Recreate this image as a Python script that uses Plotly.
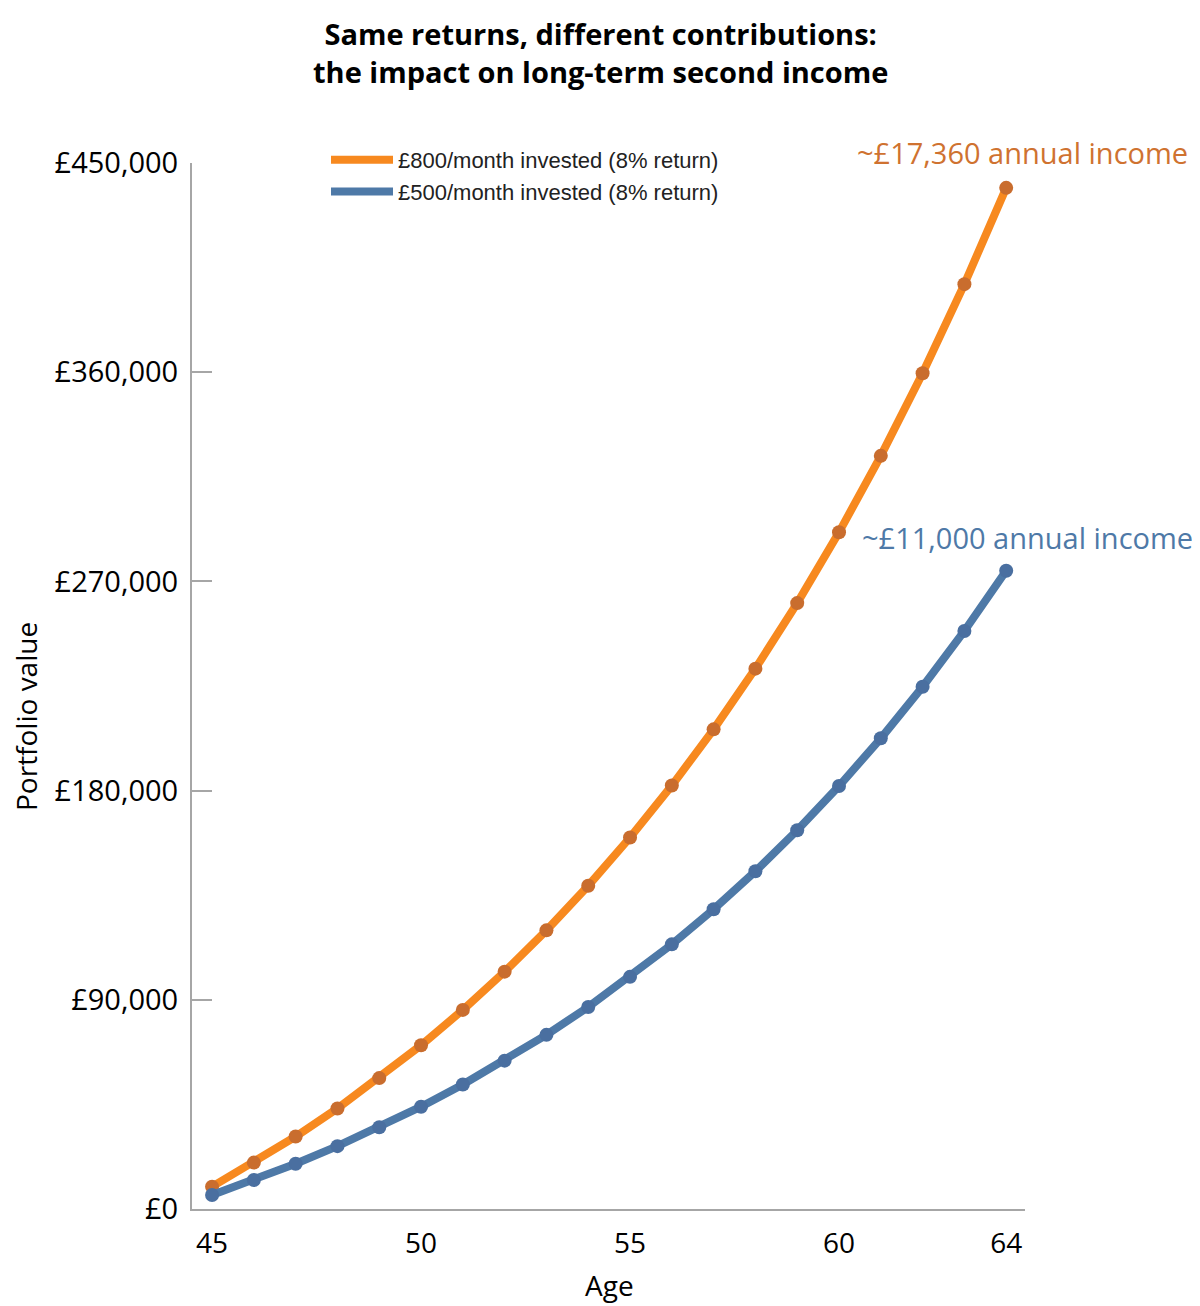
import plotly.graph_objects as go

ages = list(range(45, 65))
orange_values = [9600, 19970, 31170, 43260, 56320, 70430, 85660, 102110, 119880, 139070,
                 159800, 182180, 206360, 232470, 260660, 291120, 324010, 359530, 397890, 439320]
blue_values = [6000, 12480, 19480, 27040, 35200, 44020, 53540, 63820, 74930, 86920,
               99870, 113860, 128970, 145290, 162910, 181950, 202500, 224700, 248680, 274570]
series_names = ["£800/month invested (8% return)", "£500/month invested (8% return)"]
y_ticks = [0, 90000, 180000, 270000, 360000, 450000]
y_tick_text = ["£0", "£90,000", "£180,000", "£270,000", "£360,000", "£450,000"]
x_ticks = [45, 50, 55, 60, 64]
annotations_text = ["~£17,360 annual income", "~£11,000 annual income"]
title_text = "<b>Same returns, different contributions:<br>the impact on long-term second income</b>"

ORANGE = "#f7891f"
ORANGE_M = "#c96d2e"
BLUE = "#4e79a7"
BLUE_M = "#4a6fa0"
FONT = "Open Sans"

L, T, PW, PH = 184, 155, 833, 1046  # plot area in figure pixels


def px(xp):
    return (xp - L) / PW


def py(yp):
    return (T + PH - yp) / PH


fig = go.Figure()
fig.add_trace(go.Scatter(x=ages, y=orange_values, mode="lines+markers", showlegend=False,
                         line=dict(color=ORANGE, width=8),
                         marker=dict(color=ORANGE_M, size=14)))
fig.add_trace(go.Scatter(x=ages, y=blue_values, mode="lines+markers", showlegend=False,
                         line=dict(color=BLUE, width=8),
                         marker=dict(color=BLUE_M, size=14)))
# legend entries (line only, as in the reference)
fig.add_trace(go.Scatter(x=[None], y=[None], mode="lines", name=series_names[0],
                         line=dict(color=ORANGE, width=8)))
fig.add_trace(go.Scatter(x=[None], y=[None], mode="lines", name=series_names[1],
                         line=dict(color=BLUE, width=8)))

fig.add_annotation(x=ages[-1], y=orange_values[-1], text=annotations_text[0], showarrow=False,
                   xref="x", yref="y", yshift=35, xshift=16, xanchor="center", yanchor="middle",
                   font=dict(family=FONT, size=29, color="#cf7230"))
fig.add_annotation(x=ages[-1], y=blue_values[-1], text=annotations_text[1], showarrow=False,
                   xref="x", yref="y", yshift=33, xshift=21, xanchor="center", yanchor="middle",
                   font=dict(family=FONT, size=29, color=BLUE))

# title and axis titles as annotations for precise placement
fig.add_annotation(x=px(592), y=py(44), xref="paper", yref="paper", text=title_text,
                   showarrow=False, xanchor="center", yanchor="middle",
                   font=dict(family=FONT, size=29, color="black"))
fig.add_annotation(x=px(601), y=py(1277), xref="paper", yref="paper", xanchor="center",
                   yanchor="middle", text="Age", showarrow=False,
                   font=dict(family=FONT, size=28, color="black"))
fig.add_annotation(x=px(18), y=py(709), xref="paper", yref="paper", xanchor="center",
                   yanchor="middle", text="Portfolio value", textangle=-90, showarrow=False,
                   font=dict(family=FONT, size=28, color="black"))

fig.update_layout(
    width=1200, height=1306,
    paper_bgcolor="white", plot_bgcolor="white",
    margin=dict(l=L, r=1200 - L - PW, t=T, b=1306 - T - PH, autoexpand=False),
    showlegend=True,
    legend=dict(x=px(318), y=py(131), xanchor="left", yanchor="top", bgcolor="rgba(0,0,0,0)",
                font=dict(family="Liberation Sans", size=22, color="#222"),
                itemwidth=62, tracegroupgap=0),
    xaxis=dict(range=[44.52, 64.45], tickvals=x_ticks, ticks="", showgrid=False, automargin=False,
               zeroline=False, showline=True, linecolor="#a6a6a6", linewidth=2,
               ticklabelstandoff=8,
               tickfont=dict(family=FONT, size=28, color="black")),
    yaxis=dict(range=[0, 450000], tickvals=y_ticks, ticktext=y_tick_text, ticks="inside",
               ticklen=20, tickcolor="#a6a6a6", tickwidth=2, showgrid=False, zeroline=False,
               automargin=False, ticklabelstandoff=6,
               showline=True, linecolor="#a6a6a6", linewidth=2,
               tickfont=dict(family=FONT, size=29, color="black")),
)

fig.write_html("out.html")
